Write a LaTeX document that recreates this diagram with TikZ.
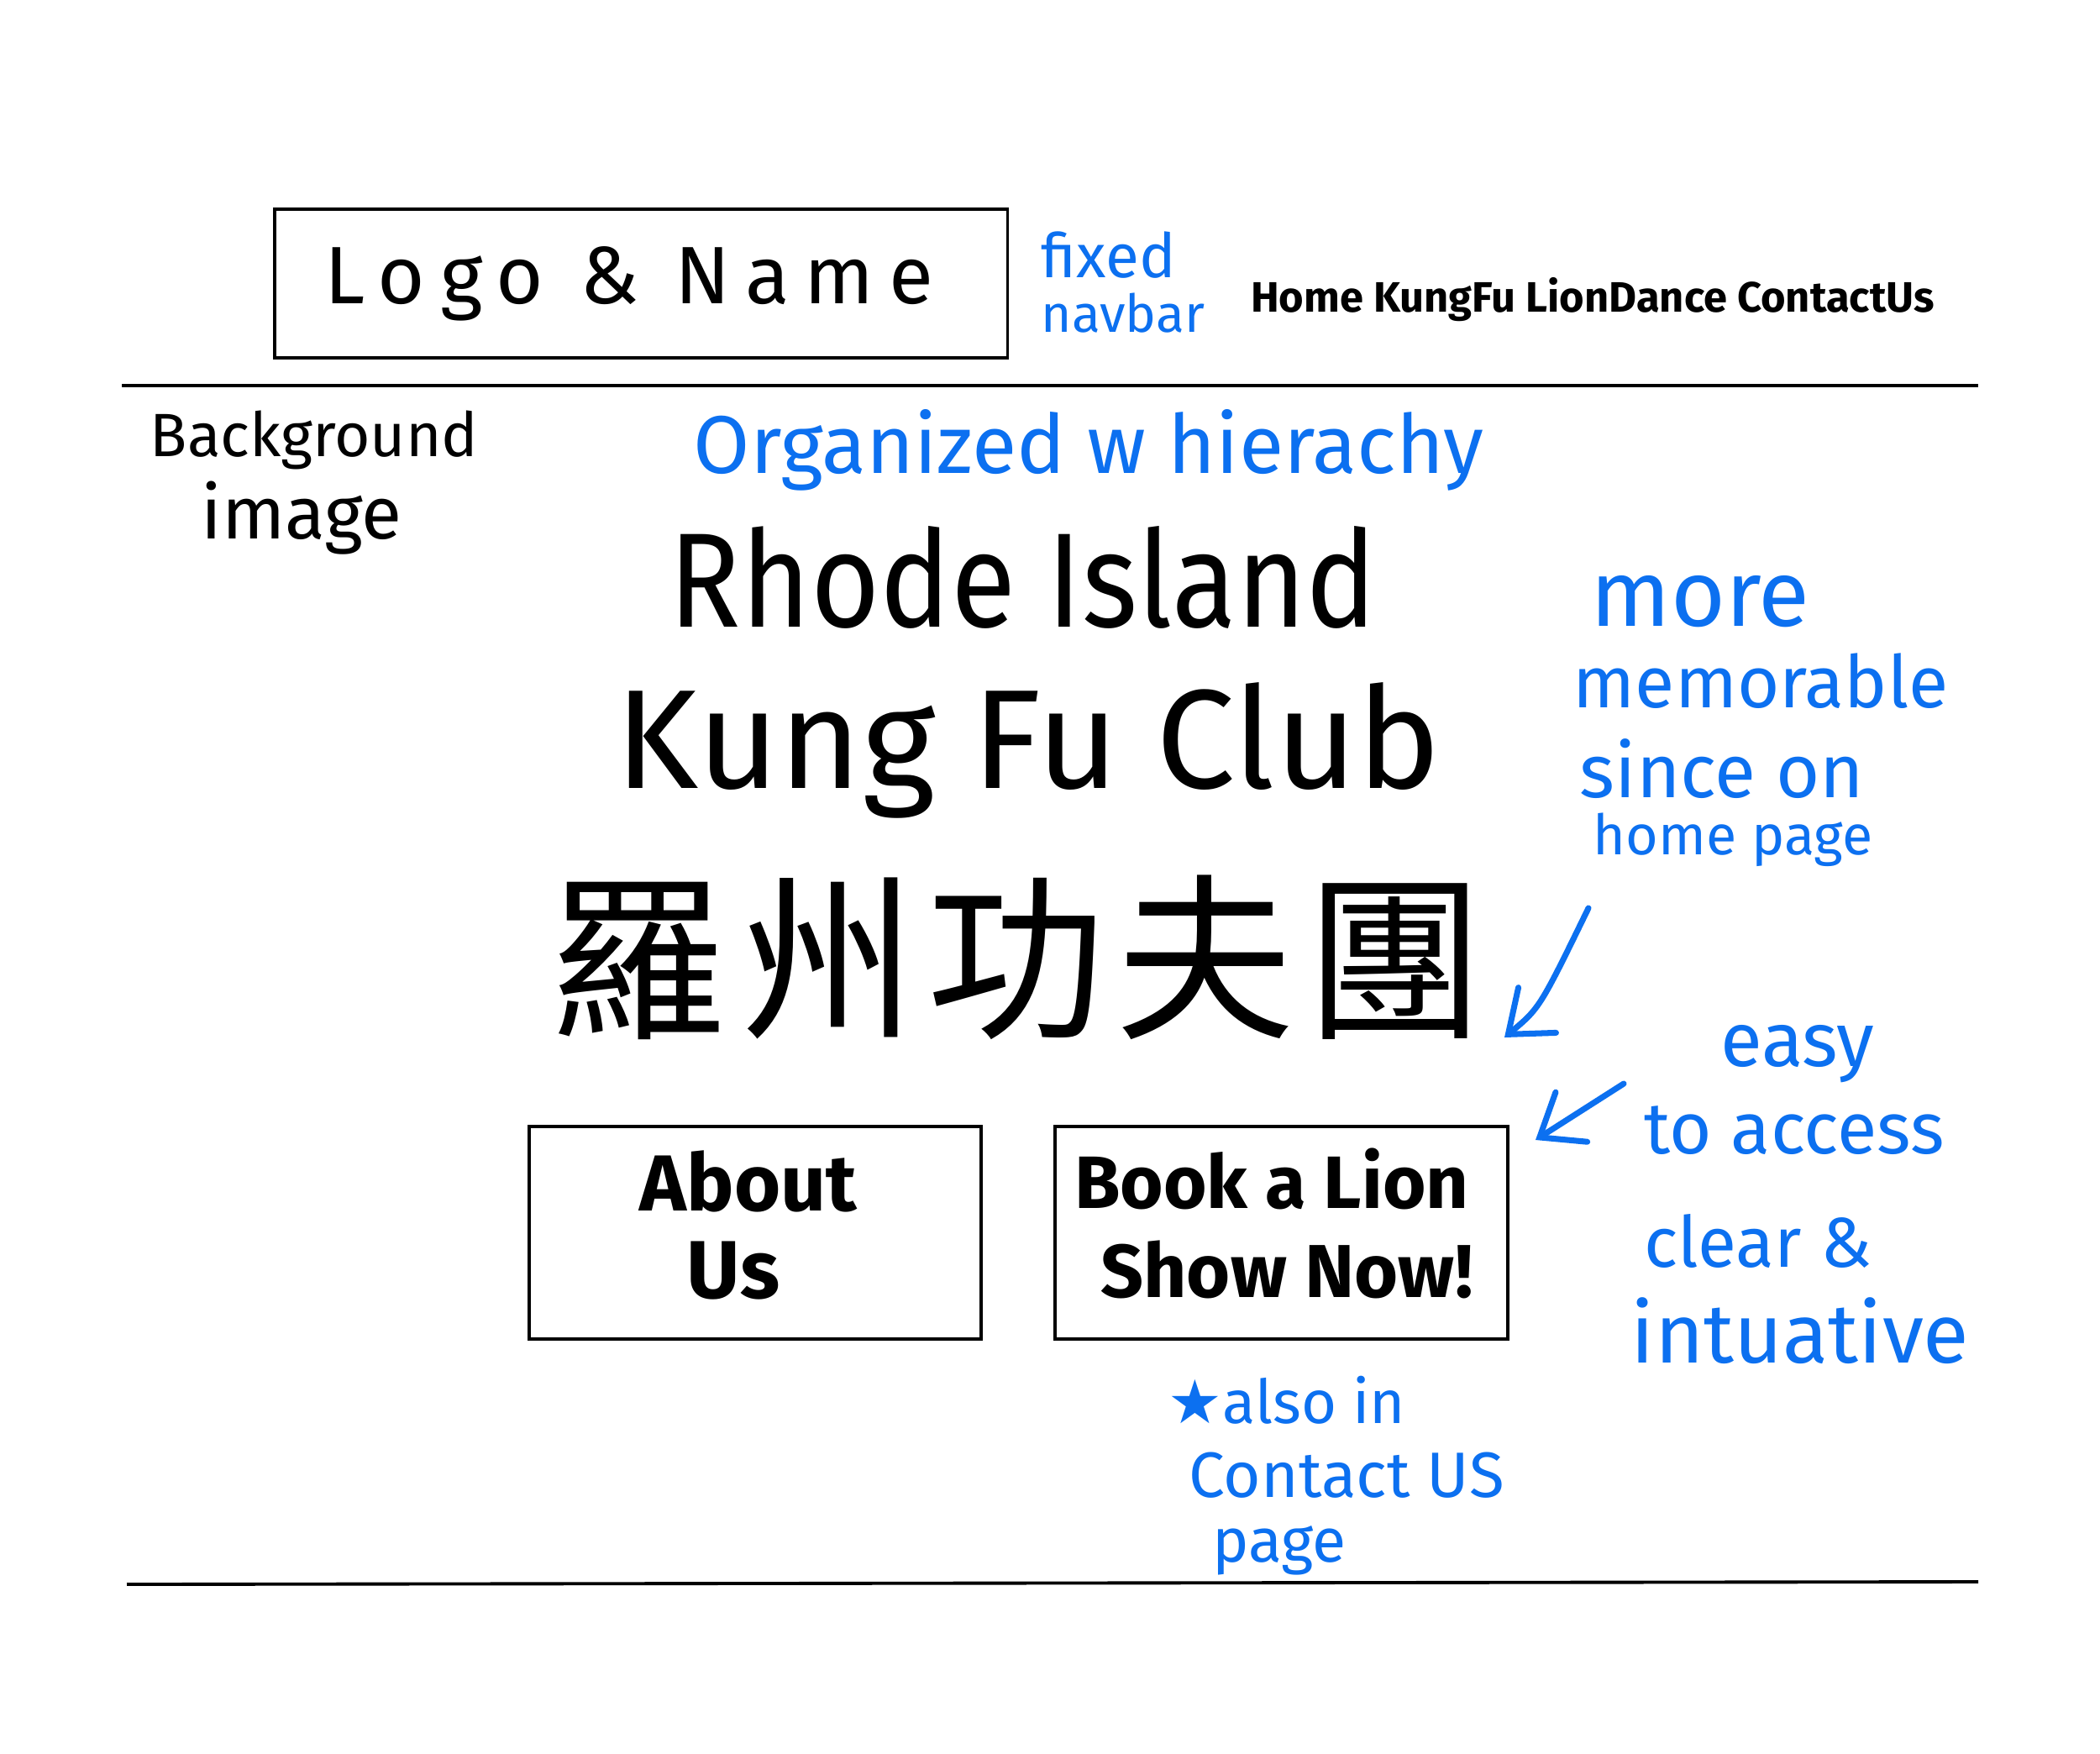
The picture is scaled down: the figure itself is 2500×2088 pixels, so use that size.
\documentclass[tikz,border=0pt]{standalone}
\usepackage{fontspec}
\setmainfont{Fira Sans}
\newfontfamily\cjk{Noto Sans CJK TC}
\newfontfamily\symfont{DejaVu Sans}
\usetikzlibrary{arrows.meta}
\definecolor{pen}{RGB}{12,112,240}
\newcommand\fitw[2]{\resizebox{#1}{!}{#2}}
\newcommand\fitwh[3]{\resizebox{#1}{#2}{#3}}
\begin{document}
\begin{tikzpicture}[x=0.01cm,y=-0.01cm,
  box/.style={draw,line width=1pt,inner sep=0},
  ink/.style={text=black,inner sep=0,anchor=center},
  note/.style={text=pen,inner sep=0,anchor=center},
  rule/.style={line width=1.1pt},
  pointer/.style={draw=pen,line width=2pt,line cap=round,-{Straight Barb[length=4.5mm,width=7mm,line cap=round]}}
]
\useasboundingbox (0,0) rectangle (2500,2088);
\fill[white] (0,0) rectangle (2500,2088);

% navbar
\node[box,minimum width=8.72cm,minimum height=1.77cm] (logo) at (763,337.5) {};
\node[ink] (logotxt) at (749,338) {\fitw{7.24cm}{\addfontfeature{LetterSpace=18}Logo \& Name}};
\node[note] (fixed) at (1320,304) {\fitw{1.6cm}{fixed}};
\node[note] (navbar) at (1337,373) {\fitw{1.94cm}{navbar}};
\node[ink] (links) at (1896,357) {\fitw{8.13cm}{\bfseries Home KungFu LionDance ContactUs}};

% rules
\coordinate (r1a) at (145,459);
\coordinate (r1b) at (2355,459);
\coordinate (r2a) at (151,1886);
\coordinate (r2b) at (2355,1883);
\draw[rule] (r1a) -- (r1b);
\draw[rule] (r2a) -- (r2b);

% background label
\node[ink] (bg1) at (374,524) {\fitw{3.9cm}{Background}};
\node[ink] (bg2) at (359,617) {\fitw{2.39cm}{image}};

% hero
\node[note] (org) at (1296,536) {\fitw{9.4cm}{Organized w hierachy}};
\node[ink] (t1) at (1218,687) {\fitwh{8.42cm}{1.2cm}{Rhode Island}};
\node[ink] (t2) at (1224,893) {\fitw{9.82cm}{Kung Fu Club}};
\node[ink] (t3) at (1210,1140) {\fitw{11.13cm}{\cjk\addfontfeature{LetterSpace=6}羅州功夫團}};

% buttons
\node[box,minimum width=5.38cm,minimum height=2.53cm] (about) at (899,1467.5) {};
\node[ink] (ab1) at (891,1406) {\fitw{2.58cm}{\bfseries About}};
\node[ink] (ab2) at (873,1513) {\fitw{1.1cm}{\bfseries Us}};
\node[box,minimum width=5.39cm,minimum height=2.53cm] (book) at (1525.5,1467.5) {};
\node[ink] (bk1) at (1514,1403) {\fitw{4.69cm}{\bfseries Book a Lion}};
\node[ink] (bk2) at (1532,1511) {\fitw{4.43cm}{\bfseries Show Now!}};

% notes right
\node[note] (m1) at (2024,716) {\fitw{2.61cm}{more}};
\node[note] (m2) at (2096,811) {\fitw{4.46cm}{memorable}};
\node[note] (m3) at (2050,915) {\fitw{3.38cm}{since on}};
\node[note] (m4) at (2063,1000) {\fitw{3.32cm}{home page}};
\node[note] (e1) at (2140,1255) {\fitw{1.83cm}{easy}};
\node[note] (e2) at (2136,1346) {\fitw{3.57cm}{to access}};
\node[note] (e3) at (2093,1477) {\fitw{2.71cm}{clear \&}};
\node[note] (e4) at (2143,1584) {\fitw{4.02cm}{intuative}};

% note below
\node[note] (a1) at (1532,1667) {\fitw{2.82cm}{{\symfont ★}also in}};
\node[note] (a2) at (1603,1756) {\fitw{3.75cm}{Contact US}};
\node[note] (a3) at (1523,1846) {\fitw{1.59cm}{page}};

% arrows
\coordinate (p1s) at (1891,1081);
\coordinate (p1c) at (1833,1200);
\coordinate (p1e) at (1791,1235);
\draw[pointer] (p1s) .. controls (p1c) .. (p1e);
\coordinate (p2s) at (1933,1290);
\coordinate (p2e) at (1828,1357);
\draw[pointer] (p2s) -- (p2e);
\end{tikzpicture}
\end{document}
